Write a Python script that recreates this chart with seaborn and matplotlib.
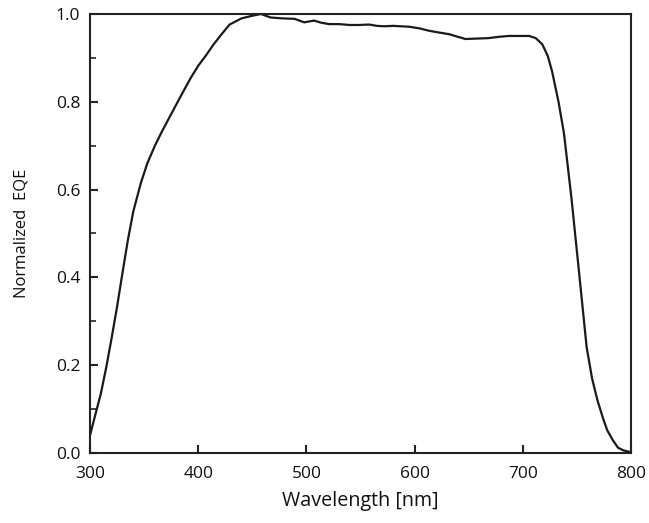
import matplotlib
matplotlib.use("Agg")
import matplotlib.pyplot as plt
import seaborn as sns
import pandas as pd
from matplotlib.ticker import MultipleLocator

wavelength = [300, 305, 310, 315, 320, 325, 330, 335, 340, 347, 353, 360, 366, 372,
              380, 387, 393, 400, 407, 414, 421, 429, 440, 450, 458, 467, 478, 489,
              498, 507, 514, 521, 530, 540, 549, 558, 565, 572, 580, 595, 605, 613,
              622, 632, 640, 647, 657, 668, 678, 687, 697, 706, 712, 718, 723, 727,
              733, 738, 745, 753, 759, 764, 769, 774, 778, 783, 788, 793, 798, 800]
eqe = [0.04, 0.088, 0.135, 0.195, 0.262, 0.333, 0.41, 0.485, 0.55, 0.615, 0.66,
       0.70, 0.73, 0.758, 0.795, 0.827, 0.854, 0.882, 0.905, 0.93, 0.952, 0.976,
       0.99, 0.996, 1.0, 0.992, 0.99, 0.989, 0.981, 0.985, 0.98, 0.977, 0.977,
       0.975, 0.975, 0.976, 0.973, 0.972, 0.973, 0.971, 0.967, 0.962, 0.958, 0.954,
       0.948, 0.943, 0.944, 0.945, 0.948, 0.950, 0.950, 0.950, 0.945, 0.931, 0.905,
       0.87, 0.80, 0.729, 0.58, 0.387, 0.241, 0.17, 0.12, 0.08, 0.052, 0.03, 0.012,
       0.006, 0.003, 0.002]

df = pd.DataFrame({"Wavelength": wavelength, "EQE": eqe})

sns.set_style("ticks")
plt.rcParams['font.family'] = ['Open Sans', 'DejaVu Sans']

fig = plt.figure(figsize=(6.49, 5.23), dpi=100)
ax = fig.add_axes([90/649, 1-453/523, 541/649, 439/523])
sns.lineplot(data=df, x="Wavelength", y="EQE", ax=ax, color="#1a1a1a", linewidth=1.6)

ax.set_xlim(300, 800)
ax.set_ylim(0, 1.0)
ax.xaxis.set_major_locator(MultipleLocator(100))
ax.yaxis.set_major_locator(MultipleLocator(0.2))
ax.yaxis.set_minor_locator(MultipleLocator(0.1))
ax.yaxis.set_major_formatter(matplotlib.ticker.FormatStrFormatter('%.1f'))

for s in ax.spines.values():
    s.set_visible(True)
    s.set_linewidth(1.5)
    s.set_color("#222222")

ax.tick_params(axis='both', which='major', direction='in', length=6, width=1.5,
               labelsize=12.5, colors="#222222", labelcolor="#111111")
ax.tick_params(axis='x', which='major', pad=9)
ax.tick_params(axis='y', which='major', pad=7)
ax.tick_params(axis='y', which='minor', direction='in', length=4, width=1.2, color="#222222")
ax.tick_params(top=False, right=False, which='both')

ax.set_xlabel("Wavelength [nm]", fontsize=14.2, color="#111111", labelpad=7)
ax.set_ylabel("Normalized  EQE", fontsize=12, color="#111111", labelpad=19)

fig.savefig("out.png", dpi=100, facecolor="white")
